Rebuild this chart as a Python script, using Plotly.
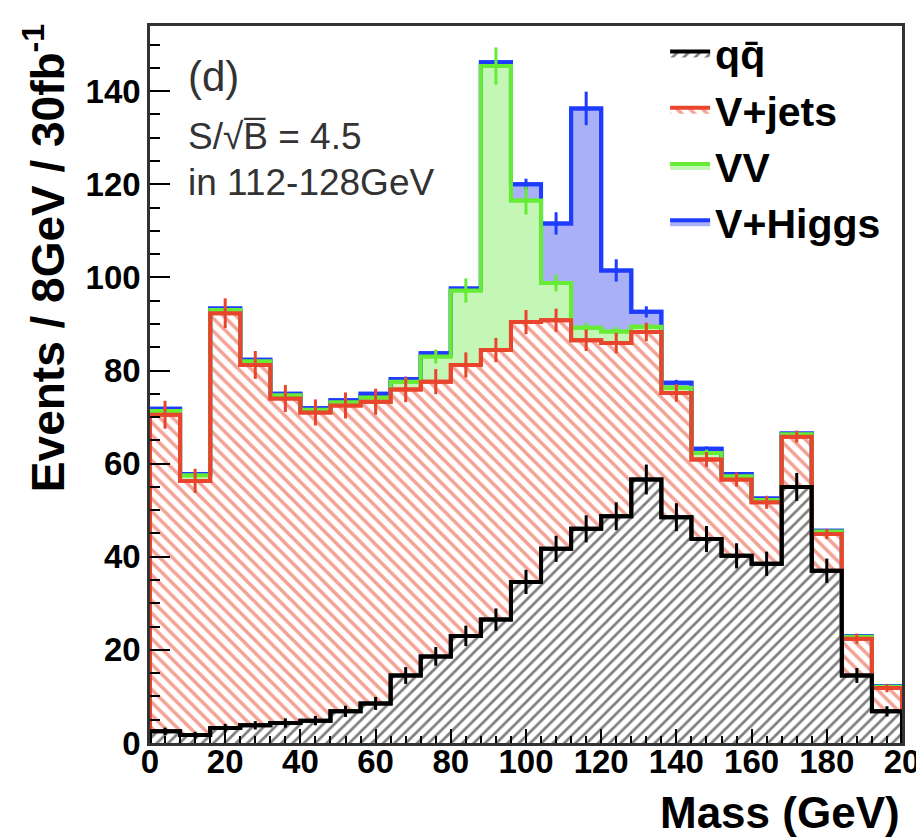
import numpy as np
import plotly.graph_objects as go

# ---------------- data ----------------
bin_edges = list(range(0, 208, 8))          # 0 ... 200 GeV, 8 GeV bins
qq    = [2.5, 1.7, 3.2, 3.8, 4.3, 4.8, 6.8, 8.5, 14.5, 18.6, 23.0, 26.5, 34.6,
         41.7, 46.0, 48.7, 56.6, 48.5, 43.8, 40.2, 38.5, 55.0, 37.0, 14.5, 6.8]
vjets = [68.0, 54.6, 89.1, 77.4, 69.7, 66.2, 65.7, 64.8, 61.4, 59.0, 58.2, 57.9, 55.8,
         49.1, 40.5, 37.2, 31.7, 26.7, 17.1, 16.4, 13.2, 10.8, 7.9, 7.9, 5.0]
vv    = [0.8, 1.2, 0.7, 0.8, 0.7, 0.6, 0.7, 0.9, 1.7, 5.4, 16.0, 61.0, 26.1,
         8.0, 2.7, 2.5, 1.1, 1.1, 1.4, 0.7, 0.5, 0.5, 0.5, 0.4, 0.3]
vh    = [0.5, 0.3, 0.3, 0.3, 0.3, 0.3, 0.4, 0.8, 0.6, 0.7, 0.4, 0.8, 3.5,
         12.8, 47.1, 13.1, 3.2, 1.1, 0.9, 0.5, 0.3, 0.2, 0.2, 0.2, 0.1]

qq_err    = [0.8, 0.7, 0.9, 0.9, 1.0, 1.0, 1.2, 1.4, 1.8, 2.0, 2.2, 2.4, 2.6,
             2.8, 2.9, 3.0, 3.2, 3.0, 2.8, 2.7, 2.6, 3.0, 2.6, 1.6, 1.1]
vjets_err = [3.0, 2.6, 3.2, 3.0, 2.9, 2.8, 2.8, 2.8, 2.7, 2.7, 2.7, 2.6, 2.6,
             2.5, 2.3, 2.2, 2.0, 1.9, 1.6, 1.5, 1.4, 1.3, 1.1, 1.1, 0.9]
vv_err    = [0.5, 0.6, 0.5, 0.5, 0.5, 0.4, 0.5, 0.5, 0.8, 1.5, 2.6, 4.0, 3.0,
             1.8, 1.0, 1.0, 0.6, 0.6, 0.7, 0.5, 0.4, 0.4, 0.4, 0.4, 0.3]
vh_err    = [0.4, 0.3, 0.3, 0.3, 0.3, 0.3, 0.4, 0.5, 0.5, 0.5, 0.4, 0.6, 1.2,
             2.4, 3.6, 2.4, 1.2, 0.6, 0.5, 0.4, 0.3, 0.3, 0.3, 0.3, 0.2]

x_tick_vals = [0, 20, 40, 60, 80, 100, 120, 140, 160, 180, 200]
x_tick_text = ["0", "20", "40", "60", "80", "100", "120", "140", "160", "180", "20"]

names = ["qq\u0304", "V+jets", "VV", "V+Higgs"]

# ---------------- styles ----------------
RED = "#e8452c"
GREEN = "#66ec34"
GREEN_FILL = "#c4f6b6"
BLUE = "#1e3cff"
BLUE_FILL = "#aab0f6"
FONT = "Liberation Sans, Arial, Helvetica, sans-serif"

edges = np.array(bin_edges, dtype=float)
centers = edges[:-1] + 4.0
c_qq = np.array(qq)
c_vj = c_qq + np.array(vjets)
c_vv = c_vj + np.array(vv)
c_vh = c_vv + np.array(vh)


def step(top):
    xs = [edges[0]] + list(edges[:-1]) + [edges[-1], edges[-1]]
    ys = [0.0] + list(top) + [top[-1], 0.0]
    return xs, ys


fig = go.Figure()

# filled stacked histograms (legend entries)
x, y = step(c_qq)
fig.add_trace(go.Scatter(x=x, y=y, mode="lines", line=dict(shape="hv", color="black", width=4),
                         fill="tozeroy", fillcolor="white",
                         fillpattern=dict(shape="/", fgcolor="black", bgcolor="white", size=8, solidity=0.34),
                         name="<b>" + names[0] + "</b>"))
x, y = step(c_vj)
fig.add_trace(go.Scatter(x=x, y=y, mode="lines", line=dict(shape="hv", color=RED, width=4),
                         fill="tonexty", fillcolor="white",
                         fillpattern=dict(shape="\\", fgcolor=RED, bgcolor="white", size=9, solidity=0.4),
                         name="<b>" + names[1] + "</b>"))
x, y = step(c_vv)
fig.add_trace(go.Scatter(x=x, y=y, mode="lines", line=dict(shape="hv", color=GREEN, width=4),
                         fill="tonexty", fillcolor=GREEN_FILL, name="<b>" + names[2] + "</b>"))
x, y = step(c_vh)
fig.add_trace(go.Scatter(x=x, y=y, mode="lines", line=dict(shape="hv", color=BLUE, width=4),
                         fill="tonexty", fillcolor=BLUE_FILL, name="<b>" + names[3] + "</b>"))

# outlines + error bars, drawn back-to-front like ROOT (blue, green, red, black)
for top, err, col in [(c_vh, vh_err, BLUE), (c_vv, vv_err, GREEN),
                      (c_vj, vjets_err, RED), (c_qq, qq_err, "black")]:
    x, y = step(top)
    fig.add_trace(go.Scatter(x=x, y=y, mode="lines", line=dict(shape="hv", color=col, width=4),
                             showlegend=False, hoverinfo="skip"))
    fig.add_trace(go.Scatter(x=centers, y=top, mode="markers", marker=dict(size=1, color=col),
                             error_y=dict(type="data", array=err, visible=True, thickness=3,
                                          width=0, color=col),
                             showlegend=False, hoverinfo="skip"))

fig.update_layout(
    width=924, height=840,
    margin=dict(l=142, r=22, t=15, b=105),
    paper_bgcolor="white", plot_bgcolor="white",
    font=dict(family=FONT, color="black"),
    showlegend=True,
    legend=dict(x=0.685, y=1.008, xanchor="left", yanchor="top", bgcolor="rgba(0,0,0,0)",
                font=dict(size=41, family=FONT, color="black"), itemwidth=40,
                traceorder="normal", tracegroupgap=0),
)

fig.update_xaxes(range=[0, 200], tickmode="array", tickvals=x_tick_vals, ticktext=x_tick_text,
                 ticks="inside", ticklen=14, tickwidth=2, tickcolor="black",
                 minor=dict(tickmode="linear", tick0=0, dtick=4, ticks="inside", ticklen=7,
                            tickwidth=1.5, tickcolor="black"),
                 showline=True, linecolor="#333", linewidth=2.5, mirror=True,
                 showgrid=False, zeroline=False, ticklabelstandoff=-12,
                 tickfont=dict(size=33, family=FONT, weight="bold", color="black"))
fig.update_yaxes(range=[0, 154], tick0=0, dtick=20,
                 ticks="inside", ticklen=20, tickwidth=2, tickcolor="black",
                 minor=dict(tickmode="linear", tick0=0, dtick=5, ticks="inside", ticklen=10,
                            tickwidth=1.5, tickcolor="black"),
                 showline=True, linecolor="#333", linewidth=2.5, mirror=True,
                 showgrid=False, zeroline=False,
                 tickfont=dict(size=33, family=FONT, weight="bold", color="black"))

fig.add_annotation(xref="paper", yref="paper", x=0.048, y=0.93, xanchor="left", yanchor="middle",
                   text="(d)", showarrow=False, font=dict(size=42, family=FONT, color="#333"))
fig.add_annotation(xref="paper", yref="paper", x=0.048, y=0.846, xanchor="left", yanchor="middle",
                   text="S/\u221aB\u0305 = 4.5", showarrow=False, font=dict(size=37, family=FONT, color="#333"))
fig.add_annotation(xref="paper", yref="paper", x=0.048, y=0.782, xanchor="left", yanchor="middle",
                   text="in 112-128GeV", showarrow=False, font=dict(size=37, family=FONT, color="#333"))
fig.add_annotation(xref="paper", yref="paper", x=1.0, y=-0.097, xanchor="right", yanchor="middle",
                   text="<b>Mass (GeV)</b>", showarrow=False, font=dict(size=44, family=FONT, color="black"))
fig.add_annotation(xref="paper", yref="paper", x=-0.14, y=1.005, xanchor="center", yanchor="top",
                   textangle=-90, text="<b>Events / 8GeV / 30fb<sup>-1</sup></b>", showarrow=False,
                   font=dict(size=46, family=FONT, color="black"))

fig.write_html("out.html")
